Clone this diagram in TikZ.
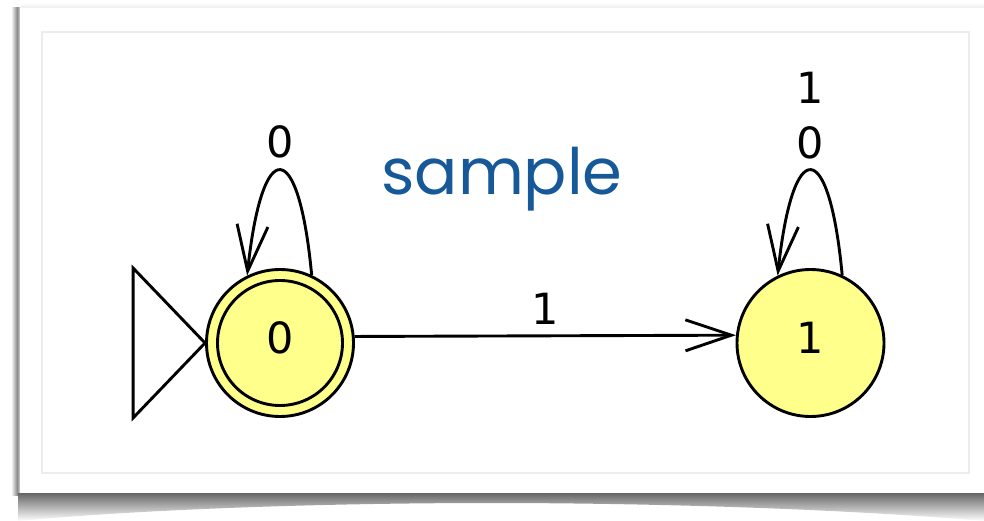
\documentclass[tikz,border=0pt]{standalone}
\usepackage{fontspec}
\setmainfont{DejaVu Sans}
\newfontfamily\handfont{Poppins}
\usetikzlibrary{arrows.meta}

\definecolor{stateyellow}{RGB}{255,255,140}
\definecolor{sampleblue}{RGB}{22,88,152}
\definecolor{frameline}{RGB}{236,236,236}

\tikzset{
  automaton/.style={line width=2.9pt, line join=miter},
  statenode/.style={circle, draw, line width=2.9pt, fill=stateyellow,
    minimum size=147pt, inner sep=0pt,
    font=\fontsize{43}{50}\selectfont, text height=31.3pt, text depth=10pt},
  trans/.style={line width=2.9pt,
    -{Straight Barb[length=46pt,width=31pt]}},
  lbl/.style={inner sep=0pt, font=\fontsize{43}{50}\selectfont}
}

\begin{document}
\begin{tikzpicture}[x=1pt,y=-1pt]
  \useasboundingbox (0,0) rectangle (984,521);
  \fill[white] (0,0) rectangle (984,521);

  % card shadows
  \shade[left color=white, right color=black!45] (11,8) rectangle (17,495);
  \shade[left color=black!45, right color=black!18] (17,8) rectangle (20,495);
  \shade[top color=white, bottom color=black!7] (20,3) rectangle (984,8);
  \shade[top color=black!60, bottom color=white]
    (18,493) -- (984,493) -- (984,521)
    .. controls (820,507) and (620,503) .. (492,503)
    .. controls (360,503) and (170,507) .. (18,521) -- cycle;

  % card and inner frame
  \fill[white] (20,8) rectangle (984,493);
  \draw[frameline, line width=1.2pt, fill=white] (42,32) rectangle (969,473);

  % states
  \node[statenode] (s0) at (280,343) {0};
  \node[statenode] (s1) at (810.5,343) {1};
  \draw[line width=2.9pt] (s0.center) circle[radius=62.5pt];

  % start marker
  \draw[automaton, fill=white] (s0.west) -- ++(-72,-75) -- ++(0,150) -- cycle;

  % transitions
  \draw[trans] (s0.5.4) -- node[lbl, above=10pt] (l01) {1} (s1.174.6);
  \draw[trans] (s0.65) .. controls +(-13,-139) and +(15,-141) .. (s0.116);
  \draw[trans] (s1.65) .. controls +(-13,-139) and +(15,-141) .. (s1.116);

  % loop labels
  \node[lbl] (l00) at (280,142) {0};
  \node[lbl] (l11a) at (810,143) {0};
  \node[lbl] (l11b) at (810,88) {1};

  % watermark text
  \node[anchor=base, inner sep=0pt, text=sampleblue,
        font=\handfont\fontsize{64}{70}\selectfont] (title) at (502,195) {sample};
\end{tikzpicture}
\end{document}
